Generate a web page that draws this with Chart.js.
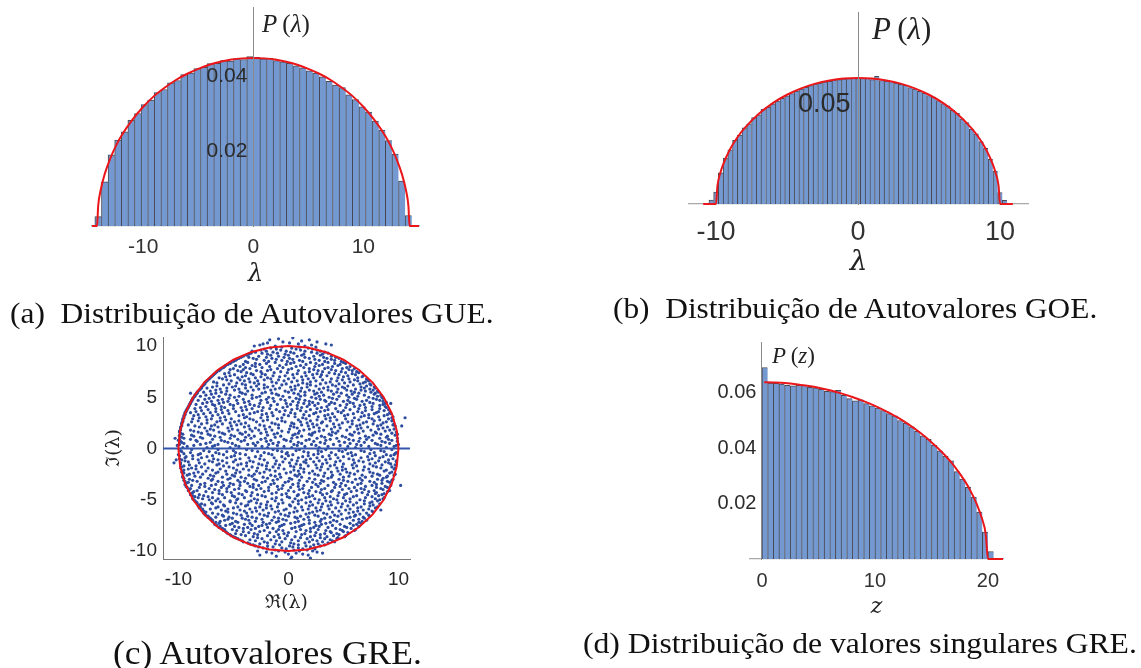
<!DOCTYPE html>
<html>
<head>
<meta charset="utf-8">
<script src="https://cdn.jsdelivr.net/npm/chart.js@4.4.1/dist/chart.umd.min.js"></script>
<style>
  html, body { margin: 0; padding: 0; background: #fff; }
  body { width: 1141px; height: 668px; position: relative; overflow: hidden; }
  canvas { position: absolute; left: 0; top: 0; }
  .cap { position: absolute; font-family: "Liberation Serif", serif; font-size: 30px; line-height: 30px; color: #111; white-space: nowrap; transform-origin: 0 0; }
  .lbl { position: absolute; font-family: "Liberation Serif", serif; color: #222; white-space: nowrap; line-height: 1; }
</style>
</head>
<body>
<canvas id="gue" width="1141" height="668"></canvas>
<canvas id="goe" width="1141" height="668"></canvas>
<canvas id="gre" width="1141" height="668"></canvas>
<canvas id="sing" width="1141" height="668"></canvas>

<div class="lbl" style="left:262px; top:11px; font-size:25px"><i>P</i>&thinsp;(<i>λ</i>)</div>
<div class="lbl" style="left:872px; top:13px; font-size:31px"><i>P</i>&thinsp;(<i>λ</i>)</div>
<div class="lbl" style="left:772px; top:344px; font-size:23px"><i>P</i>&thinsp;(<i>z</i>)</div>

<div class="cap" id="capA" style="left:10px; top:298px">(a)&ensp;Distribuição de Autovalores GUE.</div>
<div class="cap" id="capB" style="left:613px; top:293px">(b)&ensp;Distribuição de Autovalores GOE.</div>
<div class="cap" id="capC" style="left:113px; top:637px; font-size:33px; line-height:33px">(c) Autovalores GRE.</div>
<div class="cap" id="capD" style="left:583px; top:628px">(d) Distribuição de valores singulares GRE.</div>

<script>
// ---- (a) GUE: histograma dos autovalores ----
const gueBins = [-14.1, -13.5, -12.9, -12.3, -11.7, -11.1, -10.5, -9.9, -9.3, -8.7, -8.1, -7.5,
  -6.9, -6.3, -5.7, -5.1, -4.5, -3.9, -3.3, -2.7, -2.1, -1.5, -0.9, -0.3,
  0.3, 0.9, 1.5, 2.1, 2.7, 3.3, 3.9, 4.5, 5.1, 5.7, 6.3, 6.9,
  7.5, 8.1, 8.7, 9.3, 9.9, 10.5, 11.1, 11.7, 12.3, 12.9, 13.5, 14.1];
const gueCounts = [0.0025, 0.0118, 0.0190, 0.0229, 0.0251, 0.0282, 0.0300, 0.0324, 0.0336, 0.0356, 0.0364, 0.0382,
  0.0388, 0.0404, 0.0408, 0.0420, 0.0423, 0.0433, 0.0434, 0.0441, 0.0440, 0.0446, 0.0444, 0.0452,
  0.0450, 0.0446, 0.0447, 0.0441, 0.0438, 0.0434, 0.0427, 0.0422, 0.0414, 0.0408, 0.0398, 0.0386,
  0.0376, 0.0369, 0.0350, 0.0337, 0.0318, 0.0304, 0.0280, 0.0256, 0.0228, 0.0192, 0.0120, 0.0028];
const gueCurveX = [-14.66, -14.2, -14.1, -13.9, -13.5, -13, -12.5, -12, -11, -10, -9, -8, -7, -6, -5, -4, -3, -2, -1,
  0, 1, 2, 3, 4, 5, 6, 7, 8, 9, 10, 11, 12, 12.5, 13, 13.5, 13.9, 14.1, 14.2, 15.06];
const gueCurveY = [0, 0, 0.0053, 0.0092, 0.0139, 0.0180, 0.0213, 0.0240, 0.0283, 0.0318, 0.0347, 0.0370, 0.0390, 0.0406, 0.0419, 0.0430, 0.0438, 0.0444, 0.0447,
  0.0448, 0.0447, 0.0444, 0.0438, 0.0430, 0.0419, 0.0406, 0.0390, 0.0370, 0.0347, 0.0318, 0.0283, 0.0240, 0.0213, 0.0180, 0.0139, 0.0092, 0.0053, 0, 0];
const gueTicksX = [-10, 0, 10];
const gueTicksY = [0.02, 0.04];

// ---- (b) GOE: histograma dos autovalores ----
const goeBins = [-10.33, -10, -9.67, -9.33, -9, -8.67, -8.33, -8, -7.67, -7.33, -7, -6.67, -6.33, -6, -5.67, -5.33,
  -5, -4.67, -4.33, -4, -3.67, -3.33, -3, -2.67, -2.33, -2, -1.67, -1.33, -1, -0.67, -0.33, 0,
  0.33, 0.67, 1, 1.33, 1.67, 2, 2.33, 2.67, 3, 3.33, 3.67, 4, 4.33, 4.67, 5, 5.33,
  5.67, 6, 6.33, 6.67, 7, 7.33, 7.67, 8, 8.33, 8.67, 9, 9.33, 9.67, 10, 10.33];
const goeCounts = [0.0020, 0.0060, 0.0158, 0.0232, 0.0274, 0.0322, 0.0348, 0.0385, 0.0405, 0.0436, 0.0451, 0.0478, 0.0489, 0.0506, 0.0520, 0.0534,
  0.0546, 0.0558, 0.0571, 0.0580, 0.0590, 0.0598, 0.0606, 0.0611, 0.0617, 0.0620, 0.0626, 0.0628, 0.0633, 0.0634, 0.0636, 0.0634,
  0.0636, 0.0635, 0.0628, 0.0645, 0.0624, 0.0621, 0.0620, 0.0611, 0.0604, 0.0600, 0.0588, 0.0581, 0.0569, 0.0561, 0.0548, 0.0540,
  0.0522, 0.0507, 0.0496, 0.0473, 0.0458, 0.0430, 0.0411, 0.0378, 0.0354, 0.0315, 0.0281, 0.0226, 0.0166, 0.0058, 0.0018];
const goeCurveX = [-10.9, -10, -9.9, -9.7, -9.5, -9, -8.5, -8, -7, -6, -5, -4, -3, -2, -1, 0,
  1, 2, 3, 4, 5, 6, 7, 8, 8.5, 9, 9.5, 9.7, 9.9, 10, 10.9];
const goeCurveY = [0, 0, 0.0090, 0.0155, 0.0199, 0.0278, 0.0336, 0.0382, 0.0455, 0.0510, 0.0552, 0.0584, 0.0608, 0.0624, 0.0634, 0.0637,
  0.0634, 0.0624, 0.0608, 0.0584, 0.0552, 0.0510, 0.0455, 0.0382, 0.0336, 0.0278, 0.0199, 0.0155, 0.0090, 0, 0];
const goeTicksX = [-10, 0, 10];
const goeTicksY = [0.05];

// ---- (c) GRE: autovalores no plano complexo [parte imaginaria, partes reais] ----
const greEigenRows = [
  [10.8, [0.4]], [10.7, [-0.9]], [10.6, [-1.7, 1.9]], [10.5, [1.2]], [10.4, [-0.5, 2.6]], [10.3, [-1.9, 0.1]],
  [10.2, [-2.3, 0.9, 3.4]], [10.1, [-2.6, 2.1, 3.9]], [10.0, [-3.1, -1.2, 1.5]], [9.9, [-0.6, 1.0, 2.5]],
  [9.8, [-1.6, 0.3, 1.8]], [9.7, [-2.2, -1.1, 0.7, 2.2]], [9.6, [-2.5, -0.7, 1.1, 2.6]], [9.5, [-3.3, -2.0, -0.2, 1.5, 2.9]],
  [9.4, [-3.0, -1.4, 0.2, 2.1, 3.3]], [9.3, [-3.4, -2.4, -1.0, 0.5, 2.6, 3.6]],
  [9.2, [-3.6, -1.9, -0.3, 1.4, 3.1]], [9.1, [-3.8, -1.6, 0.0, 1.2, 2.9]],
  [9.0, [-4.1, -2.7, -0.9, 0.8, 2.3, 3.9]], [8.9, [-4.3, -3.6, -2.0, -0.4, 1.5, 3.2, 4.3]],
  [8.8, [-4.5, -3.2, -1.5, 0.1, 1.9, 3.5, 4.6]], [8.7, [-4.7, -2.9, -1.1, 0.4, 2.4, 3.9]],
  [8.6, [-4.8, -2.2, -0.6, 1.0, 2.8, 4.2]], [8.5, [-5.0, -3.9, -1.8, -0.1, 1.3, 3.3, 4.8]],
  [8.4, [-5.2, -3.7, -1.2, 0.5, 2.0, 3.6, 5.0]], [8.3, [-5.3, -3.0, -2.0, 0.2, 2.5, 4.2, 5.2]],
  [8.2, [-5.5, -4.1, -2.6, -0.2, 1.6, 3.1, 4.7]], [8.1, [-5.7, -4.8, -3.3, -0.8, 1.1, 2.8, 4.5]],
  [8.0, [-5.8, -4.4, -3.0, -1.7, 0.7, 2.4, 4.0, 5.6]], [7.9, [-5.9, -3.9, -2.4, -0.5, 1.4, 3.6, 5.3]],
  [7.8, [-6.1, -5.0, -3.5, -1.0, 0.3, 1.9, 3.3, 4.9, 6.0]], [7.7, [-6.2, -5.3, -4.1, -1.6, 0.0, 2.3, 3.9, 5.5]],
  [7.6, [-6.3, -4.6, -2.9, -1.9, 0.9, 2.7, 4.3, 5.8]], [7.5, [-6.5, -4.3, -2.5, -0.7, 1.9, 3.1, 4.8, 6.2]],
  [7.4, [-6.6, -5.4, -3.8, -1.3, -0.1, 1.5, 3.7, 5.2, 6.4]], [7.3, [-6.7, -5.8, -3.4, -2.4, 0.8, 2.6, 4.2, 5.8]],
  [7.2, [-6.8, -4.9, -3.2, -2.1, 0.4, 2.2, 3.0, 4.6, 6.1]], [7.1, [-6.9, -5.3, -3.9, -1.4, -0.3, 1.6, 3.5, 5.4, 6.8]],
  [7.0, [-7.0, -5.7, -4.2, -2.5, -0.8, 1.2, 2.9, 5.0, 6.7]], [6.9, [-7.1, -6.3, -4.6, -3.0, -1.9, 0.5, 2.3, 4.5, 6.3]],
  [6.8, [-7.2, -6.0, -3.6, -1.6, 0.0, 1.8, 3.9, 5.5, 7.1]], [6.7, [-7.3, -5.6, -4.4, -2.2, -0.9, 1.3, 3.1, 4.9, 6.0, 7.2]],
  [6.6, [-7.4, -5.2, -4.0, -2.8, -0.4, 0.8, 2.5, 4.4, 6.3, 7.3]], [6.5, [-7.5, -6.8, -3.5, -1.5, 0.3, 2.0, 3.8, 5.6, 7.0]],
  [6.4, [-7.6, -6.5, -4.7, -3.1, -1.1, 1.3, 3.4, 5.1, 6.8]], [6.3, [-7.6, -5.4, -4.2, -2.7, -0.2, 1.7, 2.9, 4.6, 6.5, 7.4]],
  [6.2, [-7.7, -5.9, -3.9, -2.2, -0.6, 0.9, 2.0, 4.0, 5.9, 7.5]], [6.1, [-7.8, -6.5, -4.8, -2.9, -1.4, 0.6, 2.5, 4.3, 5.4, 7.1]],
  [6.0, [-7.9, -6.9, -5.1, -3.4, -1.9, 0.2, 1.7, 3.6, 4.9, 6.6, 7.8]], [5.9, [-7.9, -7.4, -5.6, -3.9, -2.2, -0.8, 1.2, 3.2, 5.1, 6.9, 7.9]],
  [5.8, [-8.0, -6.2, -4.5, -2.7, -1.2, 0.6, 2.8, 4.5, 6.1, 7.4]], [5.7, [-8.1, -6.6, -4.9, -3.2, -1.6, 0.3, 1.9, 3.6, 5.3, 6.6, 7.7]],
  [5.6, [-8.2, -7.1, -5.6, -3.7, -0.3, 1.1, 2.3, 3.9, 5.7, 7.0, 8.1]], [5.5, [-8.3, -7.7, -6.1, -4.4, -2.1, 0.0, 1.5, 3.0, 4.4, 6.0, 7.5, 8.2]],
  [5.4, [-8.9, -8.3, -6.6, -4.2, -2.4, -1.5, 0.5, 2.6, 4.8, 6.4, 7.9]], [5.3, [-8.4, -7.0, -5.7, -3.9, -1.1, 0.9, 2.4, 4.1, 5.8, 7.8]],
  [5.2, [-8.5, -7.5, -5.3, -3.3, -0.9, 1.5, 3.2, 5.3, 6.9, 8.4]], [5.1, [-8.5, -8.0, -6.3, -4.5, -2.6, -0.5, 1.1, 2.8, 4.6, 6.3, 8.1]],
  [5.0, [-8.6, -6.8, -4.9, -2.9, -1.8, 0.1, 2.1, 3.7, 5.5, 7.3, 8.5]], [4.9, [-8.7, -7.2, -5.4, -3.3, -1.4, 0.7, 2.5, 4.0, 6.0, 7.7, 8.6]],
  [4.8, [-8.7, -7.6, -6.0, -4.1, -2.0, -0.7, 1.0, 2.9, 4.4, 6.2, 8.0]], [4.7, [-8.8, -8.2, -6.4, -4.7, -2.5, -0.3, 1.5, 3.3, 5.4, 7.1, 8.3]],
  [4.6, [-8.8, -7.0, -5.5, -3.6, -1.3, 0.4, 1.9, 3.4, 5.0, 6.7, 8.6]], [4.5, [-8.9, -7.4, -5.9, -4.0, -1.9, 0.9, 2.2, 3.9, 5.6, 7.4, 8.9]],
  [4.4, [-8.9, -7.8, -6.3, -4.6, -2.6, -0.2, 1.4, 2.7, 4.2, 5.9, 7.7, 8.8, 9.3]], [4.3, [-9.0, -8.4, -6.9, -5.3, -3.5, -1.0, 0.2, 1.9, 3.7, 5.3, 6.9, 8.6]],
  [4.2, [-9.0, -6.7, -5.0, -3.1, -1.6, 0.8, 2.4, 4.7, 6.5, 8.3]], [4.1, [-9.1, -7.5, -6.1, -3.9, -2.7, -0.1, 1.7, 3.5, 6.0, 7.6, 8.8]],
  [4.0, [-9.1, -8.0, -5.8, -4.3, -2.3, -0.5, 1.2, 3.0, 5.2, 7.0, 8.9]], [3.9, [-9.2, -8.5, -6.6, -5.0, -3.3, -1.7, 0.8, 2.6, 4.3, 6.4, 8.3]],
  [3.8, [-9.2, -7.3, -6.1, -3.8, -1.1, 0.3, 2.0, 3.6, 5.6, 7.6, 9.1]], [3.7, [-9.3, -7.9, -5.5, -4.2, -2.4, -0.3, 1.1, 3.3, 5.0, 7.0, 8.7]],
  [3.6, [-9.3, -8.4, -6.6, -4.8, -2.8, -0.8, 1.6, 2.9, 4.5, 6.3, 8.2]], [3.5, [-9.4, -8.9, -7.1, -6.0, -3.1, -1.5, 0.2, 2.5, 4.8, 6.7, 8.0, 9.2]],
  [3.4, [-9.4, -7.7, -5.4, -3.5, -2.0, 0.6, 2.3, 4.0, 5.9, 7.8, 9.3]], [3.3, [-9.4, -8.2, -6.4, -4.1, -2.4, -0.4, 1.4, 3.6, 5.4, 7.3, 9.0]],
  [3.2, [-9.5, -8.6, -6.9, -4.5, -1.4, 0.0, 1.9, 3.3, 5.1, 6.9, 8.7]], [3.1, [-9.5, -7.5, -5.8, -3.8, -1.9, 0.6, 2.7, 4.2, 6.6, 8.2, 9.5]],
  [3.0, [-9.5, -8.1, -6.2, -4.0, -2.5, -0.6, 1.3, 3.8, 6.0, 7.3, 9.4, 10.6]], [2.9, [-9.6, -8.7, -7.0, -5.2, -3.5, -1.0, 1.6, 3.4, 5.2, 7.6, 9.1]],
  [2.8, [-9.6, -7.4, -5.7, -3.2, -1.9, 0.9, 2.6, 4.4, 6.4, 8.3, 9.5]], [2.7, [-9.6, -8.2, -6.2, -4.5, -2.3, -0.6, 2.0, 3.8, 5.8, 7.8, 9.4]],
  [2.6, [-9.6, -8.8, -6.5, -4.9, -2.9, -0.3, 1.1, 3.1, 5.4, 7.1, 8.9]], [2.5, [-9.7, -7.4, -5.3, -3.9, -1.5, 0.3, 1.7, 3.0, 4.9, 6.8, 8.6]],
  [2.4, [-9.7, -7.9, -6.0, -4.3, -1.2, 0.5, 2.2, 4.1, 5.8, 7.7, 9.6]], [2.3, [-9.7, -9.1, -6.7, -4.7, -2.6, -0.9, 1.2, 2.6, 4.6, 6.5, 8.4, 9.5]],
  [2.2, [-9.7, -8.5, -7.0, -5.2, -3.6, -2.2, 0.2, 1.8, 3.5, 6.2, 8.1, 9.7, 10.3]], [2.1, [-9.8, -8.1, -6.4, -4.0, -1.7, 0.5, 2.3, 4.2, 5.6, 7.2, 9.0]],
  [2.0, [-9.8, -7.6, -5.5, -3.0, -0.9, 0.8, 2.8, 4.7, 6.6, 8.6]], [1.9, [-9.8, -7.1, -5.1, -3.5, -2.1, 0.1, 1.9, 3.9, 6.3, 8.2, 9.6]],
  [1.8, [-9.8, -8.9, -6.8, -4.6, -2.7, -1.5, 1.4, 3.2, 5.3, 7.5, 9.2]], [1.7, [-9.9, -8.6, -7.4, -5.4, -3.3, -0.6, 1.0, 2.8, 4.5, 6.8, 8.8]],
  [1.6, [-9.9, -8.2, -6.3, -3.9, -2.0, 0.0, 2.4, 4.0, 6.0, 7.9, 9.8]], [1.5, [-9.8, -7.9, -6.0, -4.4, -2.5, -1.0, 0.9, 2.2, 4.3, 6.4, 8.0, 9.4]],
  [1.4, [-9.6, -7.3, -5.8, -4.2, -1.3, 0.6, 1.9, 3.7, 5.6, 8.4, 9.9]], [1.3, [-9.9, -8.8, -7.1, -5.2, -3.6, -1.9, 0.4, 2.1, 3.9, 5.8, 7.7, 9.7]],
  [1.2, [-9.9, -8.6, -6.7, -4.9, -3.1, -0.7, 1.2, 3.0, 4.9, 7.0, 9.0]], [1.1, [-9.7, -8.0, -6.2, -3.9, -1.2, 0.8, 3.3, 5.2, 7.3, 8.9]],
  [1.0, [-10.3, -9.5, -7.8, -5.3, -3.4, -2.1, 0.3, 2.6, 4.4, 6.5, 8.3, 9.9]], [0.9, [-9.9, -8.9, -6.9, -4.6, -2.5, -0.4, 1.9, 3.8, 5.5, 7.1, 9.1]],
  [0.8, [-10.0, -8.4, -6.1, -4.0, -1.6, -0.2, 1.6, 3.4, 5.9, 7.6, 9.4]], [0.7, [-9.8, -8.3, -5.8, -4.3, -2.0, 0.2, 2.3, 4.6, 6.4, 8.5, 9.9]],
  [0.6, [-9.7, -7.1, -5.5, -2.8, -0.9, 0.9, 2.9, 5.1, 6.9, 8.8]], [0.5, [-9.5, -7.5, -5.1, -3.2, -1.4, 1.2, 3.3, 5.6, 7.9, 9.2]],
  [0.4, [-9.9, -8.0, -6.4, -3.7, -1.8, 0.5, 2.1, 4.1, 6.2, 8.1, 10.0]], [0.3, [-10.1, -8.6, -6.7, -4.8, -3.0, -1.0, 0.8, 2.5, 4.7, 6.6, 8.4, 9.8]],
  [0.2, [-9.2, -6.9, -4.5, -2.4, -0.4, 1.5, 3.6, 5.4, 7.3, 9.6]], [0.1, [-9.6, -7.4, -5.3, -1.9, 0.3, 2.8, 6.1, 8.9]],
  [-0.1, [-8.8, -6.4, -3.8, -1.4, 1.0, 3.4, 5.2, 7.5, 9.4]], [-0.2, [-9.8, -7.7, -5.0, -3.3, -1.0, 0.7, 2.7, 4.6, 6.6, 8.4]],
  [-0.3, [-9.7, -7.2, -5.6, -2.8, -0.6, 1.4, 3.0, 4.9, 6.9, 8.7]], [-0.4, [-8.9, -6.6, -4.8, -2.2, -0.1, 1.8, 3.9, 5.7, 7.8, 9.8]],
  [-0.5, [-9.5, -8.0, -6.3, -4.4, -1.8, -0.2, 2.7, 5.4, 7.4, 9.7]], [-0.6, [-10.0, -8.2, -5.9, -3.9, -1.5, 0.4, 2.3, 4.3, 6.1, 8.9, 9.6]],
  [-0.7, [-9.9, -8.7, -6.9, -4.9, -2.5, 0.0, 1.8, 3.7, 5.8, 7.9, 9.3]], [-0.8, [-9.3, -7.4, -5.2, -3.0, -0.6, 1.3, 3.1, 5.0, 7.2, 8.6]],
  [-0.9, [-9.4, -7.9, -5.6, -3.6, -1.3, 0.9, 2.6, 4.5, 6.6, 8.3]], [-1.0, [-9.9, -8.7, -6.8, -4.4, -2.6, -0.3, 2.0, 3.8, 5.5, 7.6, 9.5]],
  [-1.1, [-10.2, -9.7, -8.2, -6.4, -4.8, -2.2, 0.3, 1.6, 3.4, 5.9, 7.3, 9.1]], [-1.2, [-9.4, -7.2, -6.0, -3.5, -1.1, 0.8, 2.8, 4.7, 6.4, 8.2, 9.8]],
  [-1.3, [-9.1, -6.9, -5.0, -3.2, -0.5, 1.4, 2.3, 4.3, 6.8, 8.8, 9.8]], [-1.4, [-10.4, -9.8, -8.1, -5.6, -3.8, -1.9, 0.1, 1.6, 3.5, 6.0, 7.9, 9.1]],
  [-1.5, [-9.8, -7.6, -6.3, -4.3, -2.7, -1.2, 0.7, 3.1, 5.0, 7.4, 9.3]], [-1.6, [-9.0, -6.5, -4.6, -2.4, -0.8, 1.1, 2.5, 4.2, 5.8, 8.5, 9.7]],
  [-1.7, [-9.5, -8.4, -5.9, -3.8, -2.0, 0.2, 1.8, 3.8, 6.2, 7.7]], [-1.8, [-9.7, -7.9, -5.4, -3.3, -1.4, 0.5, 3.0, 4.9, 6.9, 8.0, 9.4]],
  [-1.9, [-9.8, -8.8, -7.3, -5.0, -2.8, -0.9, 1.1, 2.6, 4.4, 5.9, 8.4, 9.7]], [-2.0, [-9.1, -8.4, -6.2, -4.1, -2.0, -0.4, 1.4, 3.6, 5.2, 7.3, 9.6]],
  [-2.1, [-9.5, -6.9, -4.7, -3.6, -1.7, 0.5, 2.9, 4.9, 6.8, 8.9]], [-2.2, [-9.6, -7.5, -5.7, -2.9, -1.2, 0.9, 2.2, 4.5, 6.3, 8.7]],
  [-2.3, [-9.7, -8.2, -6.4, -4.4, -2.2, 0.2, 1.4, 3.9, 5.3, 7.4, 9.4]], [-2.4, [-9.5, -8.6, -6.6, -4.8, -2.6, -0.2, 1.9, 3.3, 5.6, 7.7, 9.2]],
  [-2.5, [-9.0, -7.8, -5.6, -3.1, -0.8, 1.0, 2.4, 4.7, 6.0, 8.1, 9.7]], [-2.6, [-9.2, -7.1, -5.1, -3.6, -1.6, 0.6, 2.7, 4.0, 6.7, 8.3, 9.6]],
  [-2.7, [-9.6, -8.5, -6.8, -4.9, -3.3, -1.2, 0.8, 3.2, 5.5, 7.6, 9.0]], [-2.8, [-9.6, -8.0, -6.0, -4.3, -2.3, -0.7, 1.2, 3.9, 5.0, 7.0, 8.9]],
  [-2.9, [-9.5, -7.3, -5.3, -3.9, -1.9, 0.1, 1.9, 3.6, 6.5, 8.6]], [-3.0, [-9.0, -6.9, -5.5, -3.1, -1.0, 0.3, 2.4, 4.6, 6.1, 8.1, 9.5]],
  [-3.1, [-9.5, -8.7, -7.0, -4.6, -2.9, -1.4, 1.0, 3.0, 5.0, 6.7, 8.5, 9.4]], [-3.2, [-9.4, -8.3, -6.4, -4.0, -2.1, 0.0, 1.7, 3.2, 5.4, 7.4, 9.0]],
  [-3.3, [-9.1, -6.0, -4.4, -2.4, -0.3, 2.2, 4.1, 5.8, 7.8, 9.2]], [-3.4, [-9.3, -7.6, -5.3, -3.7, -1.3, 0.9, 2.9, 4.8, 6.6, 8.5]],
  [-3.5, [-9.4, -8.0, -6.6, -5.0, -3.2, -1.6, 0.4, 2.5, 4.3, 6.3, 8.0]], [-3.6, [-8.8, -7.0, -5.9, -4.4, -2.7, -0.5, 1.4, 3.6, 5.2, 7.6, 9.3, 10.2]],
  [-3.7, [-9.3, -7.6, -5.4, -3.5, -1.0, 0.9, 2.7, 4.7, 7.0, 8.8]], [-3.8, [-9.2, -8.1, -6.1, -3.2, -1.8, 0.2, 2.1, 4.2, 6.0, 8.0, 9.0]],
  [-3.9, [-8.9, -7.2, -5.6, -4.5, -2.5, -0.6, 1.3, 3.3, 5.5, 6.6, 8.4]], [-4.0, [-9.0, -6.7, -4.9, -2.9, -0.9, 1.0, 3.0, 4.9, 6.9, 8.6]],
  [-4.1, [-9.1, -8.3, -6.3, -3.9, -1.8, 0.0, 1.9, 4.0, 6.2, 7.8, 9.2]], [-4.2, [-8.6, -7.5, -5.6, -3.8, -2.2, 0.5, 2.5, 3.9, 5.7, 7.3, 9.0]],
  [-4.3, [-8.7, -6.9, -5.2, -3.3, -1.1, 1.4, 2.9, 4.6, 6.7, 8.0]], [-4.4, [-8.9, -6.3, -4.5, -1.5, -0.2, 1.8, 3.5, 5.3, 7.9, 8.7]],
  [-4.5, [-8.9, -8.1, -6.0, -4.2, -2.8, -0.6, 0.9, 3.1, 5.1, 7.2, 8.5]], [-4.6, [-8.7, -7.7, -5.1, -3.4, -2.4, 0.8, 2.2, 4.5, 6.2, 8.2]],
  [-4.7, [-8.5, -7.3, -4.9, -2.1, -0.1, 1.9, 3.8, 5.9, 7.6]], [-4.8, [-8.2, -6.9, -5.8, -4.0, -1.1, 0.1, 1.6, 3.3, 5.0, 7.0, 8.7]],
  [-4.9, [-8.7, -7.8, -6.4, -4.6, -3.1, -1.5, 0.6, 2.4, 4.1, 5.6, 7.9, 8.6]], [-5.0, [-8.6, -7.2, -4.7, -2.8, -0.6, 1.2, 2.8, 4.4, 6.5, 8.3]],
  [-5.1, [-8.5, -6.6, -5.3, -3.4, -1.2, 0.9, 3.4, 5.2, 6.9, 8.1]], [-5.2, [-8.4, -6.2, -5.3, -3.6, -1.9, 0.4, 2.0, 3.8, 5.6, 7.6]],
  [-5.3, [-8.3, -7.0, -4.8, -2.9, -0.5, 1.6, 2.7, 4.5, 6.2, 7.4]], [-5.4, [-7.9, -6.9, -4.3, -2.5, -0.9, 0.9, 3.1, 4.9, 6.9, 8.3]],
  [-5.5, [-8.1, -7.6, -5.9, -3.7, -2.0, 0.1, 2.2, 3.9, 5.9, 7.7]], [-5.6, [-8.2, -5.8, -3.9, -1.6, 0.2, 1.9, 3.6, 5.4, 7.4]],
  [-5.7, [-8.0, -6.4, -4.6, -2.6, -1.0, 1.2, 3.0, 4.8, 6.6, 8.1]], [-5.8, [-8.1, -6.6, -5.0, -3.0, -2.0, 0.6, 2.5, 4.3, 6.3, 7.9]],
  [-5.9, [-7.8, -7.1, -5.5, -3.5, -1.5, -0.2, 1.8, 3.7, 5.6, 7.3]], [-6.0, [-7.9, -6.1, -4.4, -2.3, -0.4, 1.3, 2.9, 5.2, 6.8, 8.4]],
  [-6.1, [-7.7, -5.7, -4.0, -2.9, -0.9, 0.8, 2.6, 4.6, 6.3, 7.6]], [-6.2, [-7.5, -5.5, -3.3, -1.2, 0.5, 2.2, 4.0, 5.9, 7.7]],
  [-6.3, [-7.7, -6.9, -5.0, -3.8, -1.8, 0.1, 1.9, 3.2, 5.5, 7.1]], [-6.4, [-7.6, -6.4, -4.7, -2.6, -0.7, 1.6, 3.5, 4.8, 6.5]],
  [-6.5, [-7.5, -6.0, -4.3, -2.2, -0.3, 2.4, 4.2, 6.1, 7.3]], [-6.6, [-7.3, -5.9, -3.7, -1.9, 0.0, 1.1, 2.7, 4.5, 6.0, 7.4]],
  [-6.7, [-7.3, -6.6, -5.4, -3.3, -1.3, 0.6, 1.8, 3.8, 5.6, 6.8]], [-6.8, [-7.1, -5.1, -4.2, -2.9, -0.9, 0.8, 3.3, 5.3, 6.9]],
  [-6.9, [-7.0, -5.5, -3.9, -2.4, -0.5, 1.4, 3.0, 4.9, 6.4]], [-7.0, [-6.9, -5.8, -3.6, -1.5, -0.2, 1.9, 4.1, 5.9, 7.1]],
  [-7.1, [-6.9, -6.2, -4.8, -3.0, -0.9, 0.9, 2.9, 4.4, 6.7]], [-7.2, [-6.6, -4.6, -2.3, -1.1, 0.6, 2.4, 3.8, 6.4]],
  [-7.3, [-6.3, -5.1, -3.5, -1.7, 0.2, 1.9, 3.4, 5.6, 6.6]], [-7.4, [-6.7, -5.3, -4.0, -2.0, -0.4, 1.4, 3.0, 4.7, 6.2]],
  [-7.5, [-6.5, -5.7, -3.3, -2.4, -0.6, 1.2, 2.5, 4.0, 5.9]], [-7.6, [-6.2, -4.9, -2.7, -0.8, 1.0, 2.8, 5.1, 6.4]],
  [-7.7, [-6.3, -4.5, -3.7, -1.9, 0.6, 2.3, 3.6, 5.3]], [-7.8, [-6.0, -4.1, -3.0, -1.4, 0.3, 2.0, 4.3, 5.7]],
  [-7.9, [-5.8, -5.1, -3.4, -0.9, 1.1, 2.7, 4.7, 6.1]], [-8.0, [-5.9, -4.7, -2.2, -0.5, 1.6, 3.4, 4.9, 6.0]],
  [-8.1, [-5.7, -4.1, -2.6, -1.1, 0.7, 2.0, 3.8, 5.0]], [-8.2, [-5.6, -3.6, -1.7, 0.0, 2.5, 3.9, 5.4]],
  [-8.3, [-5.5, -4.8, -3.1, -0.4, 1.5, 3.3, 4.4]], [-8.4, [-5.3, -4.3, -2.8, -0.9, 1.2, 2.9, 4.6]],
  [-8.5, [-5.2, -3.9, -1.9, -0.1, 2.4, 4.1, 5.2]], [-8.6, [-5.0, -3.2, -1.3, 0.6, 2.0, 3.5, 5.1]],
  [-8.7, [-4.8, -2.8, -0.8, 1.1, 2.9, 4.5]], [-8.8, [-4.6, -2.4, -0.3, 1.7, 3.3, 4.4]],
  [-8.9, [-4.4, -3.5, -1.6, 0.3, 2.2, 3.8]], [-9.0, [-4.2, -3.0, -1.1, 0.9, 2.6, 4.0]],
  [-9.1, [-4.1, -2.2, -0.6, 1.9, 3.1, 4.2]], [-9.2, [-3.7, -1.9, 0.2, 1.5, 3.6]],
  [-9.3, [-3.5, -2.6, -1.2, 0.5, 2.7]], [-9.4, [-3.2, -0.8, 0.9, 2.3, 3.3]],
  [-9.5, [-3.0, -1.9, 0.1, 1.6, 2.9]], [-9.6, [-2.7, -1.4, 0.4, 2.0]],
  [-9.7, [-2.3, -0.6, 0.9, 2.4]], [-9.8, [-1.9, -0.2, 1.3, 2.4]],
  [-9.9, [-1.2, 0.5, 1.7]], [-10.0, [-2.8, -0.9, 1.0, 2.2]],
  [-10.1, [-2.0, -0.3, 2.6]], [-10.2, [-1.5, 0.7, 3.1]], [-10.3, [0.0, 1.3]], [-10.4, [-2.6, 1.8]],
  [-10.5, [-1.1]], [-10.6, [0.3]], [-10.7, [2.0]], [-10.8, [0.2]]
];
// autovalores reais (eixo real)
const greRealAxisRe = [-11.4, 11.05];
const greRealAxisIm = [0, 0];
// circulo de raio 10
const greCircleRe = [10, 9.848, 9.397, 8.660, 7.660, 6.428, 5.000, 3.420, 1.736, 0, -1.736, -3.420, -5.000, -6.428, -7.660, -8.660, -9.397, -9.848,
  -10, -9.848, -9.397, -8.660, -7.660, -6.428, -5.000, -3.420, -1.736, 0, 1.736, 3.420, 5.000, 6.428, 7.660, 8.660, 9.397, 9.848, 10];
const greCircleIm = [0, 1.736, 3.420, 5.000, 6.428, 7.660, 8.660, 9.397, 9.848, 10, 9.848, 9.397, 8.660, 7.660, 6.428, 5.000, 3.420, 1.736,
  0, -1.736, -3.420, -5.000, -6.428, -7.660, -8.660, -9.397, -9.848, -10, -9.848, -9.397, -8.660, -7.660, -6.428, -5.000, -3.420, -1.736, 0];
const greTicksX = [-10, 0, 10];
const greTicksY = [-10, -5, 0, 5, 10];

// ---- (d) GRE: valores singulares ----
const singBins = [0.25, 0.75, 1.25, 1.75, 2.25, 2.75, 3.25, 3.75, 4.25, 4.75, 5.25, 5.75, 6.25, 6.75, 7.25, 7.75, 8.25, 8.75, 9.25, 9.75,
  10.25, 10.75, 11.25, 11.75, 12.25, 12.75, 13.25, 13.75, 14.25, 14.75, 15.25, 15.75, 16.25, 16.75, 17.25, 17.75, 18.25, 18.75, 19.25, 19.75, 20.25];
const singCounts = [0.0690, 0.0634, 0.0633, 0.0630, 0.0626, 0.0624, 0.0626, 0.0626, 0.0619, 0.0617, 0.0611, 0.0604, 0.0603, 0.0608, 0.0590, 0.0578, 0.0570, 0.0574, 0.0560, 0.0552,
  0.0544, 0.0535, 0.0524, 0.0516, 0.0499, 0.0490, 0.0476, 0.0460, 0.0444, 0.0431, 0.0410, 0.0390, 0.0370, 0.0354, 0.0315, 0.0288, 0.0258, 0.0223, 0.0169, 0.0097, 0.0027];
const singCurveX = [0.2, 1, 2, 3, 4, 5, 6, 7, 8, 9, 10, 11, 12, 13, 14, 15, 16, 17, 18, 18.5, 19, 19.5, 19.8, 20, 21.33];
const singCurveY = [0.0637, 0.0636, 0.0634, 0.0630, 0.0624, 0.0617, 0.0608, 0.0597, 0.0584, 0.0569, 0.0552, 0.0532, 0.0510, 0.0484, 0.0455,
  0.0421, 0.0382, 0.0336, 0.0278, 0.0242, 0.0199, 0.0142, 0.0090, 0, 0];
const singTicksX = [0, 10, 20];
const singTicksY = [0.02, 0.04, 0.06];

// ---- estilo ----
const W = 1141, H = 668;
const tickFont = 'Liberation Sans';
const barFill = '#7499d0';
const barEdge = 'rgba(30,30,40,0.8)';
const curveRed = 'rgb(234,22,26)';

function pts(xs, ys) {
  return xs.map((x, i) => ({ x: x, y: ys[i] }));
}

function histChart(id, g, bins, counts, curveX, curveY, ticksX, ticksY) {
  return new Chart(document.getElementById(id), {
    type: 'bar',
    data: {
      datasets: [
        { type: 'line', data: pts(curveX, curveY), borderColor: curveRed, borderWidth: 2,
          pointRadius: 0, cubicInterpolationMode: 'monotone', clip: false },
        { data: pts(bins, counts), backgroundColor: barFill, borderColor: barEdge,
          borderWidth: { top: 1, left: 1, right: 0, bottom: 0 }, borderSkipped: false,
          categoryPercentage: 1, barPercentage: 1 }
      ]
    },
    options: {
      responsive: false, animation: false, events: [],
      layout: { padding: { left: g.left, right: W - g.right, top: g.top, bottom: H - g.titleBottom } },
      plugins: { legend: { display: false }, tooltip: { enabled: false } },
      scales: {
        x: {
          type: 'linear', min: g.xMin, max: g.xMax, offset: false,
          grid: { display: false, drawTicks: false },
          border: { color: '#a8a8a8', width: 1.3 },
          afterBuildTicks: s => { s.ticks = ticksX.map(v => ({ value: v })); },
          afterFit: s => { s.height = g.titleBottom - g.bottom; s.paddingLeft = 0; s.paddingRight = 0; },
          ticks: { font: { family: tickFont, size: g.tickSize }, color: '#333', padding: g.xPad, maxRotation: 0 },
          title: { display: true, text: g.xTitle, color: '#222', padding: 0,
                   font: { family: 'DejaVu Serif', style: 'italic', size: g.titleSize } }
        },
        y: {
          type: 'linear', min: 0, max: g.yMax, position: { x: 0 },
          grid: { drawOnChartArea: false, drawTicks: false },
          border: { color: '#8a8a8a', width: 1, z: 1 },
          afterBuildTicks: s => { s.ticks = ticksY.map(v => ({ value: v })); },
          afterFit: s => { s.width = 0; s.paddingTop = 0; s.paddingBottom = 0; },
          // espaco no fim afasta o rotulo do eixo (eixo centrado ignora padding)
          ticks: { font: { family: tickFont, size: g.yTickSize }, color: '#2b2b2b', z: 1,
                   callback: v => v + ' ' }
        }
      }
    }
  });
}

histChart('gue', { left: 92, right: 419, top: 7, bottom: 226, titleBottom: 289, xMin: -14.66, xMax: 15.06, yMax: 0.0584,
  tickSize: 21, yTickSize: 21, xPad: 9, xTitle: 'λ', titleSize: 24 }, gueBins, gueCounts, gueCurveX, gueCurveY, gueTicksX, gueTicksY);

histChart('goe', { left: 689, right: 1028, top: 12, bottom: 204, titleBottom: 280, xMin: -11.9, xMax: 11.97, yMax: 0.097,
  tickSize: 27, yTickSize: 27, xPad: 12, xTitle: 'λ', titleSize: 28 }, goeBins, goeCounts, goeCurveX, goeCurveY, goeTicksX, goeTicksY);

histChart('sing', { left: 750, right: 1003, top: 342, bottom: 559, titleBottom: 620, xMin: -1.06, xMax: 21.33, yMax: 0.0782,
  tickSize: 20, yTickSize: 20, xPad: 10, xTitle: 'z', titleSize: 22 }, singBins, singCounts, singCurveX, singCurveY, singTicksX, singTicksY);

// ---- (c) dispersao dos autovalores GRE ----
const greEigen = greEigenRows.flatMap(([im, res]) => res.map(re => ({ x: re, y: im })));

new Chart(document.getElementById('gre'), {
  type: 'scatter',
  data: {
    datasets: [
      { data: pts(greCircleRe, greCircleIm), showLine: true, borderColor: curveRed, borderWidth: 2,
        pointRadius: 0, tension: 0, clip: false },
      { data: pts(greRealAxisRe, greRealAxisIm), showLine: true, borderColor: '#3356ab', borderWidth: 2,
        pointRadius: 0, clip: false },
      { data: greEigen, pointRadius: 1.6, pointBorderWidth: 0, backgroundColor: '#2d4c9f', showLine: false }
    ]
  },
  options: {
    responsive: false, animation: false, events: [],
    layout: { padding: { left: 102.6, right: W - 410, top: 337, bottom: H - 614.4 } },
    plugins: { legend: { display: false }, tooltip: { enabled: false } },
    scales: {
      x: {
        type: 'linear', min: -11.4, max: 11.05,
        grid: { display: false, drawTicks: false },
        border: { color: '#777', width: 1 },
        afterBuildTicks: s => { s.ticks = greTicksX.map(v => ({ value: v })); },
        afterFit: s => { s.height = 55.4; s.paddingLeft = 0; s.paddingRight = 0; },
        ticks: { font: { family: tickFont, size: 19 }, color: '#262626', padding: 9, maxRotation: 0 },
        title: { display: true, text: 'ℜ(λ)', color: '#222', padding: 0, font: { family: 'DejaVu Serif', size: 19 } }
      },
      y: {
        type: 'linear', min: -10.78, max: 10.88,
        grid: { display: false, drawTicks: false },
        border: { color: '#777', width: 1 },
        afterBuildTicks: s => { s.ticks = greTicksY.map(v => ({ value: v })); },
        afterFit: s => { s.width = 60.4; s.paddingTop = 0; s.paddingBottom = 0; },
        ticks: { font: { family: tickFont, size: 19 }, color: '#262626', padding: 6 },
        title: { display: true, text: 'ℑ(λ)', color: '#222', padding: 0, font: { family: 'DejaVu Serif', size: 19 } }
      }
    }
  }
});

// ---- legendas: ajusta a largura de cada uma ----
const captionWidths = [['capA', 484], ['capB', 484], ['capC', 309], ['capD', 554]];
captionWidths.forEach(([id, w]) => {
  const el = document.getElementById(id);
  el.style.transform = 'scaleX(' + (w / el.offsetWidth) + ')';
});
</script>
</body>
</html>
